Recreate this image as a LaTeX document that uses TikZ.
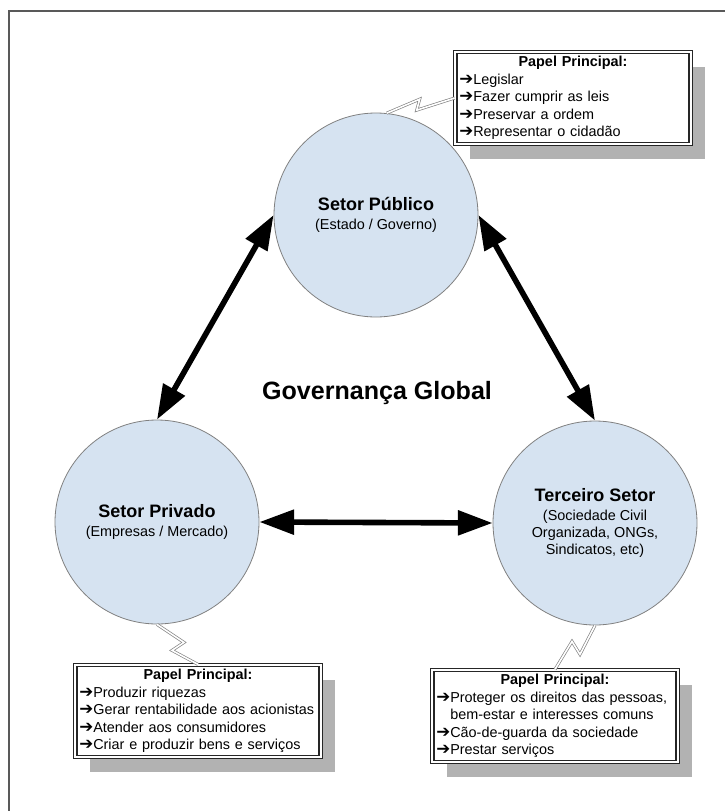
\documentclass[tikz,border=0pt]{standalone}
\usepackage{fontspec}
\setmainfont{Liberation Sans}
\newfontfamily\arrowfont{DejaVu Sans}
\usetikzlibrary{arrows.meta,shadows}
\definecolor{sectorfill}{RGB}{214,227,241}
\newcommand\itm{{\arrowfont\bfseries\fontsize{12.5pt}{12.5pt}\selectfont ➔}}
\newcommand\boxtitle{{\centering\bfseries Papel Principal:\par}}

\begin{document}
\begin{tikzpicture}[
  x=0.75pt, y=-0.75pt,
  sector/.style={
    circle, draw=black!50, line width=0.6pt, fill=sectorfill,
    minimum size=153pt, inner sep=0pt, align=center,
    font=\fontsize{10.8pt}{12.8pt}\selectfont
  },
  rolebox/.style={
    draw=black!85, double, double distance=1.5pt, line width=1pt,
    fill=white, inner sep=3pt, align=left,
    font=\fontsize{10.8pt}{13.2pt}\selectfont,
    drop shadow={shadow xshift=11pt, shadow yshift=-11pt,
      fill=black!30, opacity=1}
  },
  link/.style={
    {Triangle[length=26pt,width=18pt]}-{Triangle[length=26pt,width=18pt]},
    line width=4.2pt
  },
  bolt/.style={
    draw=black!50, double=white, double distance=1.2pt,
    line width=0.5pt, line join=miter
  }
]
  \useasboundingbox (0,0) rectangle (725,811);
  \draw[black!65, line width=1.5pt] (9,811) -- (9,11) -- (725,11);

  \node[sector] (pub) at (376,215)
    {{\fontsize{13.5pt}{15pt}\selectfont\bfseries Setor Público}\\[2pt]
     (Estado / Governo)};
  \node[sector] (priv) at (157,522)
    {{\fontsize{13.5pt}{15pt}\selectfont\bfseries Setor Privado}\\[2pt]
     (Empresas / Mercado)};
  \node[sector] (terc) at (595,523)
    {{\fontsize{13.5pt}{15pt}\selectfont\bfseries Terceiro Setor}\\[2pt]
     (Sociedade Civil\\ Organizada, ONGs,\\ Sindicatos, etc)};

  \node[font=\fontsize{18.8pt}{20pt}\selectfont\bfseries] (gov) at (377,393)
    {Governança Global};

  \foreach \a/\b in {priv.north/pub.west, pub.east/terc.north, priv.east/terc.west} {
    \draw[link] (\a) -- (\b);
  }

  \node[rolebox, minimum width=176.5pt, minimum height=65.5pt, text width=170.5pt]
    (rolepub) at (573,98)
    {\boxtitle
     \itm Legislar\\
     \itm Fazer cumprir as leis\\
     \itm Preservar a ordem\\
     \itm Representar o cidadão};
  \node[rolebox, minimum width=184pt, minimum height=65.5pt, text width=178pt]
    (rolepriv) at (198,711)
    {\boxtitle
     \itm Produzir riquezas\\
     \itm Gerar rentabilidade aos acionistas\\
     \itm Atender aos consumidores\\
     \itm Criar e produzir bens e serviços};
  \node[rolebox, minimum width=184pt, minimum height=66pt, text width=178pt]
    (roleterc) at (555,716)
    {\boxtitle
     \itm Proteger os direitos das pessoas,\\
     \hphantom{\itm}bem-estar e interesses comuns\\
     \itm Cão-de-guarda da sociedade\\
     \itm Prestar serviços};

  \draw[bolt] (pub.84) -- ++(33,-14) -- ++(-3,11) -- (rolepub.west);
  \draw[bolt] (priv.south) -- ++(27,18) -- ++(-12,8) -- (rolepriv.north);
  \draw[bolt] (terc.south) -- ++(-15,29) -- ++(-8,-13) -- (roleterc.north);
\end{tikzpicture}
\end{document}
